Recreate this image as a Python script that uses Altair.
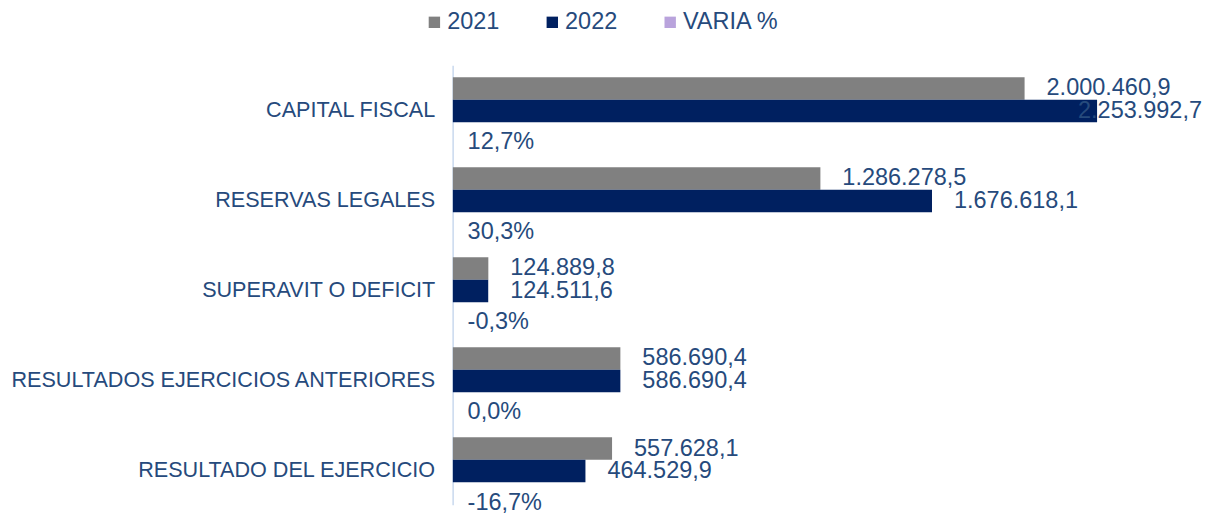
import altair as alt
import pandas as pd

categories = ["CAPITAL FISCAL", "RESERVAS LEGALES", "SUPERAVIT O DEFICIT",
              "RESULTADOS EJERCICIOS ANTERIORES", "RESULTADO DEL EJERCICIO"]
series = ["2021", "2022", "VARIA %"]
v2021 = [2000460.9, 1286278.5, 124889.8, 586690.4, 557628.1]
v2022 = [2253992.7, 1676618.1, 124511.6, 586690.4, 464529.9]
varia = [0.127, 0.303, -0.003, 0.0, -0.167]

TEXT = "#264a7c"
FONT = "Liberation Sans"


def fmt_num(v):
    s = f"{v:,.1f}"
    return s.replace(",", "X").replace(".", ",").replace("X", ".")


def fmt_pct(v):
    return f"{v * 100:.1f}".replace(".", ",") + "%"


rows = []
for i, c in enumerate(categories):
    rows.append({"cat": c, "serie": "2021", "value": v2021[i], "label": fmt_num(v2021[i])})
    rows.append({"cat": c, "serie": "2022", "value": v2022[i], "label": fmt_num(v2022[i])})
    rows.append({"cat": c, "serie": "VARIA %", "value": varia[i], "label": fmt_pct(varia[i])})
df = pd.DataFrame(rows)

W = 744
H = 440
LBL = 23.5

y_enc = alt.Y(
    "cat:N", sort=categories,
    scale=alt.Scale(paddingInner=0.25, paddingOuter=0.0666, align=1),
    axis=alt.Axis(title=None, labelFontSize=21.6, labelColor=TEXT, labelFont=FONT,
                  ticks=False, domainColor="#c9d8ee", domainWidth=1.5,
                  labelPadding=18, minExtent=445, maxExtent=445, labelLimit=440),
)
yoff = alt.YOffset("serie:N", sort=series, scale=alt.Scale(paddingInner=0, paddingOuter=0))
x_enc = alt.X("value:Q", scale=alt.Scale(domain=[0, 2600000], nice=False, zero=True), axis=None)

base = alt.Chart(df)

bars = base.mark_bar(clip=True).encode(
    y=y_enc, yOffset=yoff, x=x_enc,
    color=alt.Color(
        "serie:N",
        scale=alt.Scale(domain=series, range=["#808080", "#002060", "#b9a3dc"]),
        legend=alt.Legend(
            title=None, orient="none", direction="horizontal",
            legendX=-30, legendY=-55,
            symbolType="square", symbolSize=130, symbolStrokeWidth=0,
            labelFontSize=LBL, labelColor=TEXT, labelFont=FONT,
            columnPadding=41, labelOffset=1,
        ),
    ),
)

labels = base.transform_filter(
    "datum.serie != 'VARIA %' && datum.value < 2100000"
).mark_text(align="left", baseline="middle", dx=22, fontSize=LBL, font=FONT, color=TEXT).encode(
    y=y_enc, yOffset=yoff, x=x_enc, text="label:N"
)

labels_clamped = base.transform_filter(
    "datum.serie != 'VARIA %' && datum.value >= 2100000"
).mark_text(align="right", baseline="middle", fontSize=LBL, font=FONT, color=TEXT).encode(
    y=y_enc, yOffset=yoff, x=alt.value(W + 6), text="label:N"
)

pct_labels = base.transform_filter(
    "datum.serie == 'VARIA %'"
).mark_text(align="left", baseline="middle", dx=15, dy=9, fontSize=LBL, font=FONT, color=TEXT).encode(
    y=y_enc, yOffset=yoff, x=alt.value(0), text="label:N"
)

chart = alt.layer(bars, labels, labels_clamped, pct_labels).properties(
    width=W, height=H, padding={"left": 0, "top": 2, "right": 0, "bottom": 0}
).configure_view(stroke=None)

chart.save("out.html", embed_options={"renderer": "svg", "actions": False})
